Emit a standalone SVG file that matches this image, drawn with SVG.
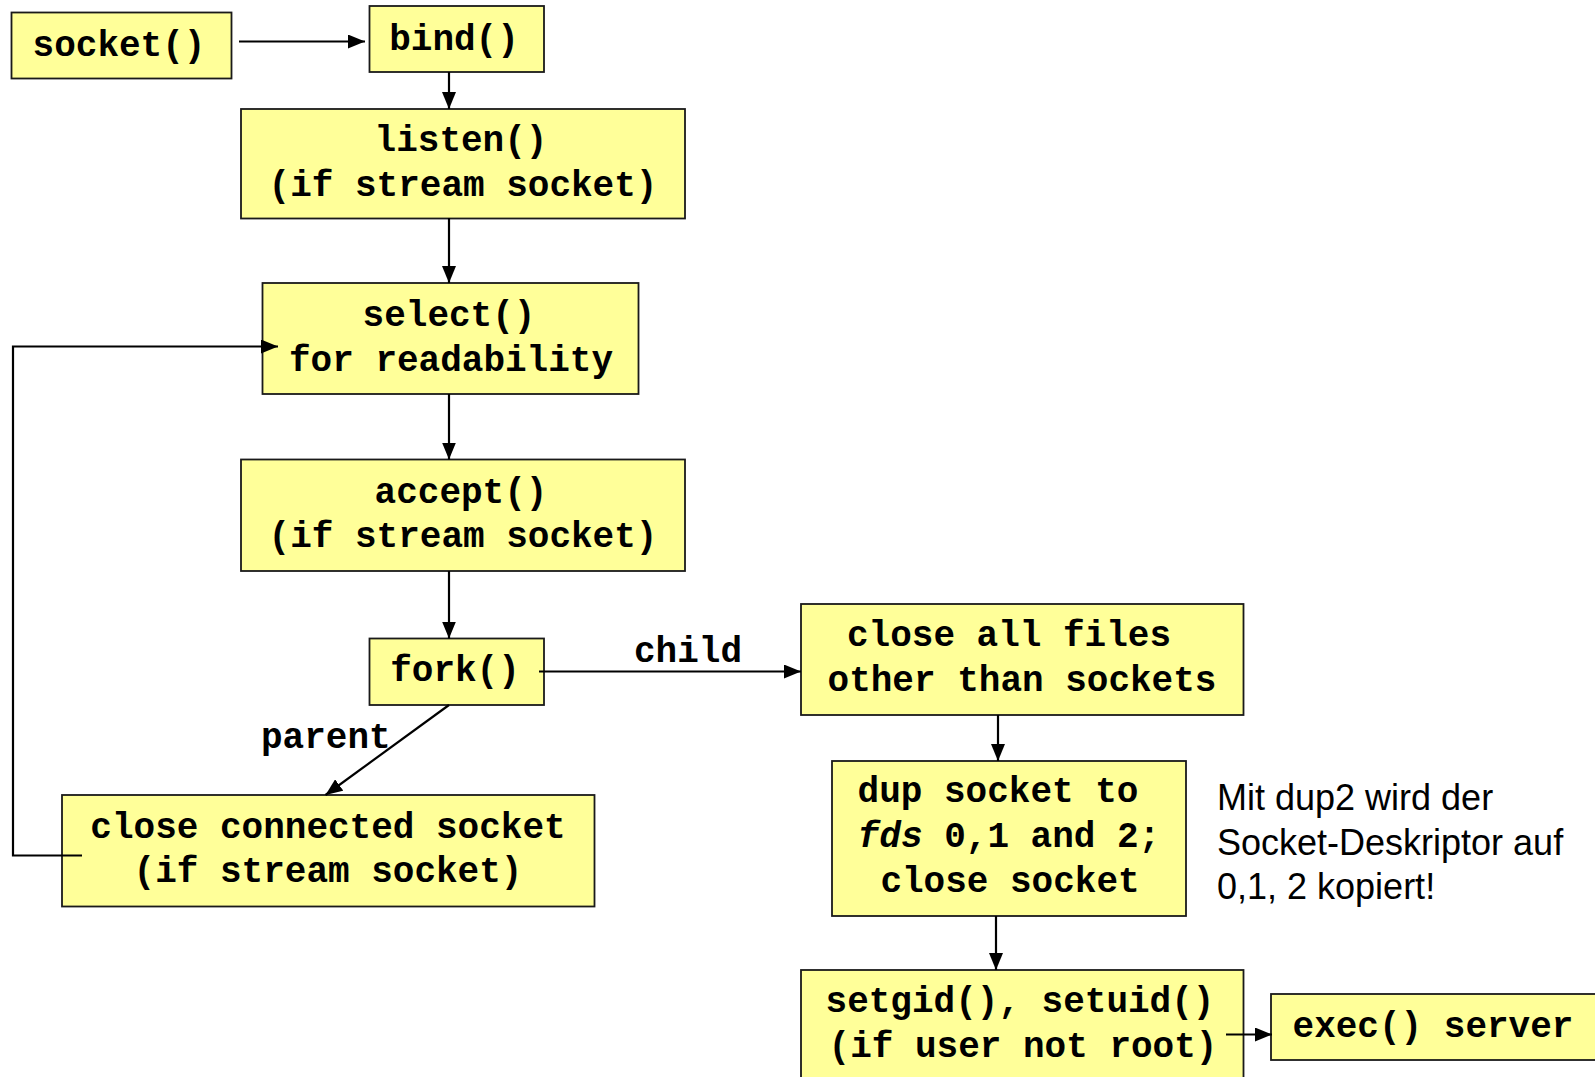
<svg xmlns="http://www.w3.org/2000/svg" width="1595" height="1077" viewBox="0 0 1595 1077">
  <style>
    .box { fill: #ffff99; stroke: #1a1a1a; stroke-width: 1.8; }
    .code { font-family: "Liberation Mono", "Courier New", monospace; font-weight: bold; font-size: 36px; fill: #000; }
    .mid { text-anchor: middle; }
    .note { font-family: "Liberation Sans", Arial, sans-serif; font-size: 36px; fill: #000; }
    .edge { fill: none; stroke: #000; stroke-width: 2.2; }
  </style>
  <defs>
    <marker id="arrow" markerUnits="userSpaceOnUse" markerWidth="17" markerHeight="14" refX="17" refY="7" orient="auto">
      <path d="M0,0 L17,7 L0,14 z" fill="#000"/>
    </marker>
  </defs>

  <rect width="1595" height="1077" fill="#ffffff"/>

  <g id="socket">
    <rect class="box" x="11.5" y="12.5" width="220" height="66"/>
    <text class="code mid" x="119" y="56">socket()</text>
  </g>

  <g id="bind">
    <rect class="box" x="369.5" y="6" width="174.5" height="66"/>
    <text class="code mid" x="454" y="50">bind()</text>
  </g>

  <g id="listen">
    <rect class="box" x="241" y="109" width="444" height="109.5"/>
    <text class="code mid" x="461" y="151">listen()</text>
    <text class="code mid" x="463" y="196">(if stream socket)</text>
  </g>

  <g id="select">
    <rect class="box" x="262.5" y="283" width="376" height="111"/>
    <text class="code mid" x="449" y="326">select()</text>
    <text class="code mid" x="451" y="370.5">for readability</text>
  </g>

  <g id="accept">
    <rect class="box" x="241" y="459.5" width="444" height="111.5"/>
    <text class="code mid" x="461" y="503">accept()</text>
    <text class="code mid" x="463" y="547">(if stream socket)</text>
  </g>

  <g id="fork">
    <rect class="box" x="369.5" y="638.5" width="174.5" height="66.5"/>
    <text class="code mid" x="455" y="681">fork()</text>
  </g>

  <g id="close-connected">
    <rect class="box" x="62" y="795" width="532.5" height="111.5"/>
    <text class="code mid" x="328" y="838">close connected socket</text>
    <text class="code mid" x="328" y="882">(if stream socket)</text>
  </g>

  <g id="close-files">
    <rect class="box" x="801" y="604" width="442.5" height="111"/>
    <text class="code mid" x="1009" y="646">close all files</text>
    <text class="code mid" x="1022" y="691">other than sockets</text>
  </g>

  <g id="dup">
    <rect class="box" x="832" y="761" width="354" height="155"/>
    <text class="code mid" x="998" y="802">dup socket to</text>
    <text class="code mid" x="1009" y="847"><tspan font-style="italic">fds</tspan> 0,1 and 2;</text>
    <text class="code mid" x="1010" y="892">close socket</text>
  </g>

  <g id="dup-note">
    <text class="note" x="1217" y="810">Mit dup2 wird der</text>
    <text class="note" x="1217" y="854.5">Socket-Deskriptor auf</text>
    <text class="note" x="1217" y="899">0,1, 2 kopiert!</text>
  </g>

  <g id="setuid">
    <rect class="box" x="801" y="970" width="442.5" height="115"/>
    <text class="code mid" x="1020" y="1012">setgid(), setuid()</text>
    <text class="code mid" x="1023" y="1057">(if user not root)</text>
  </g>

  <g id="exec">
    <rect class="box" x="1271" y="994" width="340" height="66"/>
    <text class="code mid" x="1433" y="1037">exec() server</text>
  </g>

  <!-- connectors, drawn over the boxes they touch -->
  <g id="connectors">
    <line class="edge" x1="239" y1="41.5" x2="365" y2="41.5" marker-end="url(#arrow)"/>
    <line class="edge" x1="449" y1="72" x2="449" y2="109" marker-end="url(#arrow)"/>
    <line class="edge" x1="449" y1="218" x2="449" y2="283" marker-end="url(#arrow)"/>
    <line class="edge" x1="449" y1="394" x2="449" y2="459.5" marker-end="url(#arrow)"/>
    <line class="edge" x1="449" y1="571" x2="449" y2="638.5" marker-end="url(#arrow)"/>
    <line class="edge" x1="539" y1="671.5" x2="801" y2="671.5" marker-end="url(#arrow)"/>
    <line class="edge" x1="449" y1="705" x2="325.5" y2="795" marker-end="url(#arrow)"/>
    <polyline class="edge" points="82,855.5 13,855.5 13,346.5 278,346.5" marker-end="url(#arrow)"/>
    <line class="edge" x1="998" y1="715" x2="998" y2="761" marker-end="url(#arrow)"/>
    <line class="edge" x1="996" y1="916" x2="996" y2="970" marker-end="url(#arrow)"/>
    <line class="edge" x1="1226" y1="1034.5" x2="1272" y2="1034.5" marker-end="url(#arrow)"/>
    <text class="code" x="634" y="662">child</text>
    <text class="code" x="261" y="748">parent</text>
  </g>
</svg>
